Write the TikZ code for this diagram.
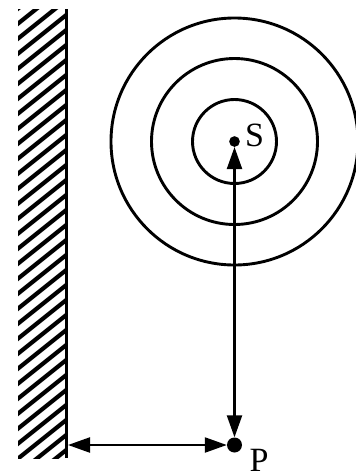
\documentclass[tikz,border=0pt]{standalone}
\usepackage{fontspec}
\setmainfont{Liberation Serif}
\usetikzlibrary{arrows.meta}
\begin{document}
\begin{tikzpicture}[x=1pt,y=-1pt,
  wave/.style={line width=2.9pt},
  dist/.style={line width=2.3pt,{Triangle[length=22pt,width=15pt]}-{Triangle[length=22pt,width=15pt]}},
  hatchline/.style={line width=4.2pt},
  lbl/.style={font=\fontsize{34}{38}\selectfont, inner sep=0pt}]
\useasboundingbox (0,0) rectangle (356,475);
% wall hatch
\begin{scope}
  \clip (18,9) rectangle (66,458);
  \foreach \c in {0,15,...,540} {
    \draw[hatchline] (10,\c) -- (90,\c-64);
  }
\end{scope}
\coordinate (wtop) at (66.5,9);
\coordinate (wbot) at (66.5,458);
\draw[line width=2.9pt] (wtop) -- (wbot);
% source and circles
\coordinate (c) at (234.5,141.5);
\draw[wave] (c) circle[radius=42];
\draw[wave] (c) circle[radius=83];
\draw[wave] (c) circle[radius=123.5];
\node[circle, fill=black, minimum size=10.7pt, inner sep=0pt] (S) at (c) {};
\node[circle, fill=black, minimum size=15pt, inner sep=0pt] (P) at (234.5,445) {};
\node[lbl, anchor=base west] (Sl) at (245,146.7) {S};
\node[lbl, anchor=base west] (Pl) at (249.5,471.5) {P};
\coordinate (W) at (68,445);
\draw[dist] (P) -- (S);
\draw[dist] (W) -- (P);
\end{tikzpicture}
\end{document}
